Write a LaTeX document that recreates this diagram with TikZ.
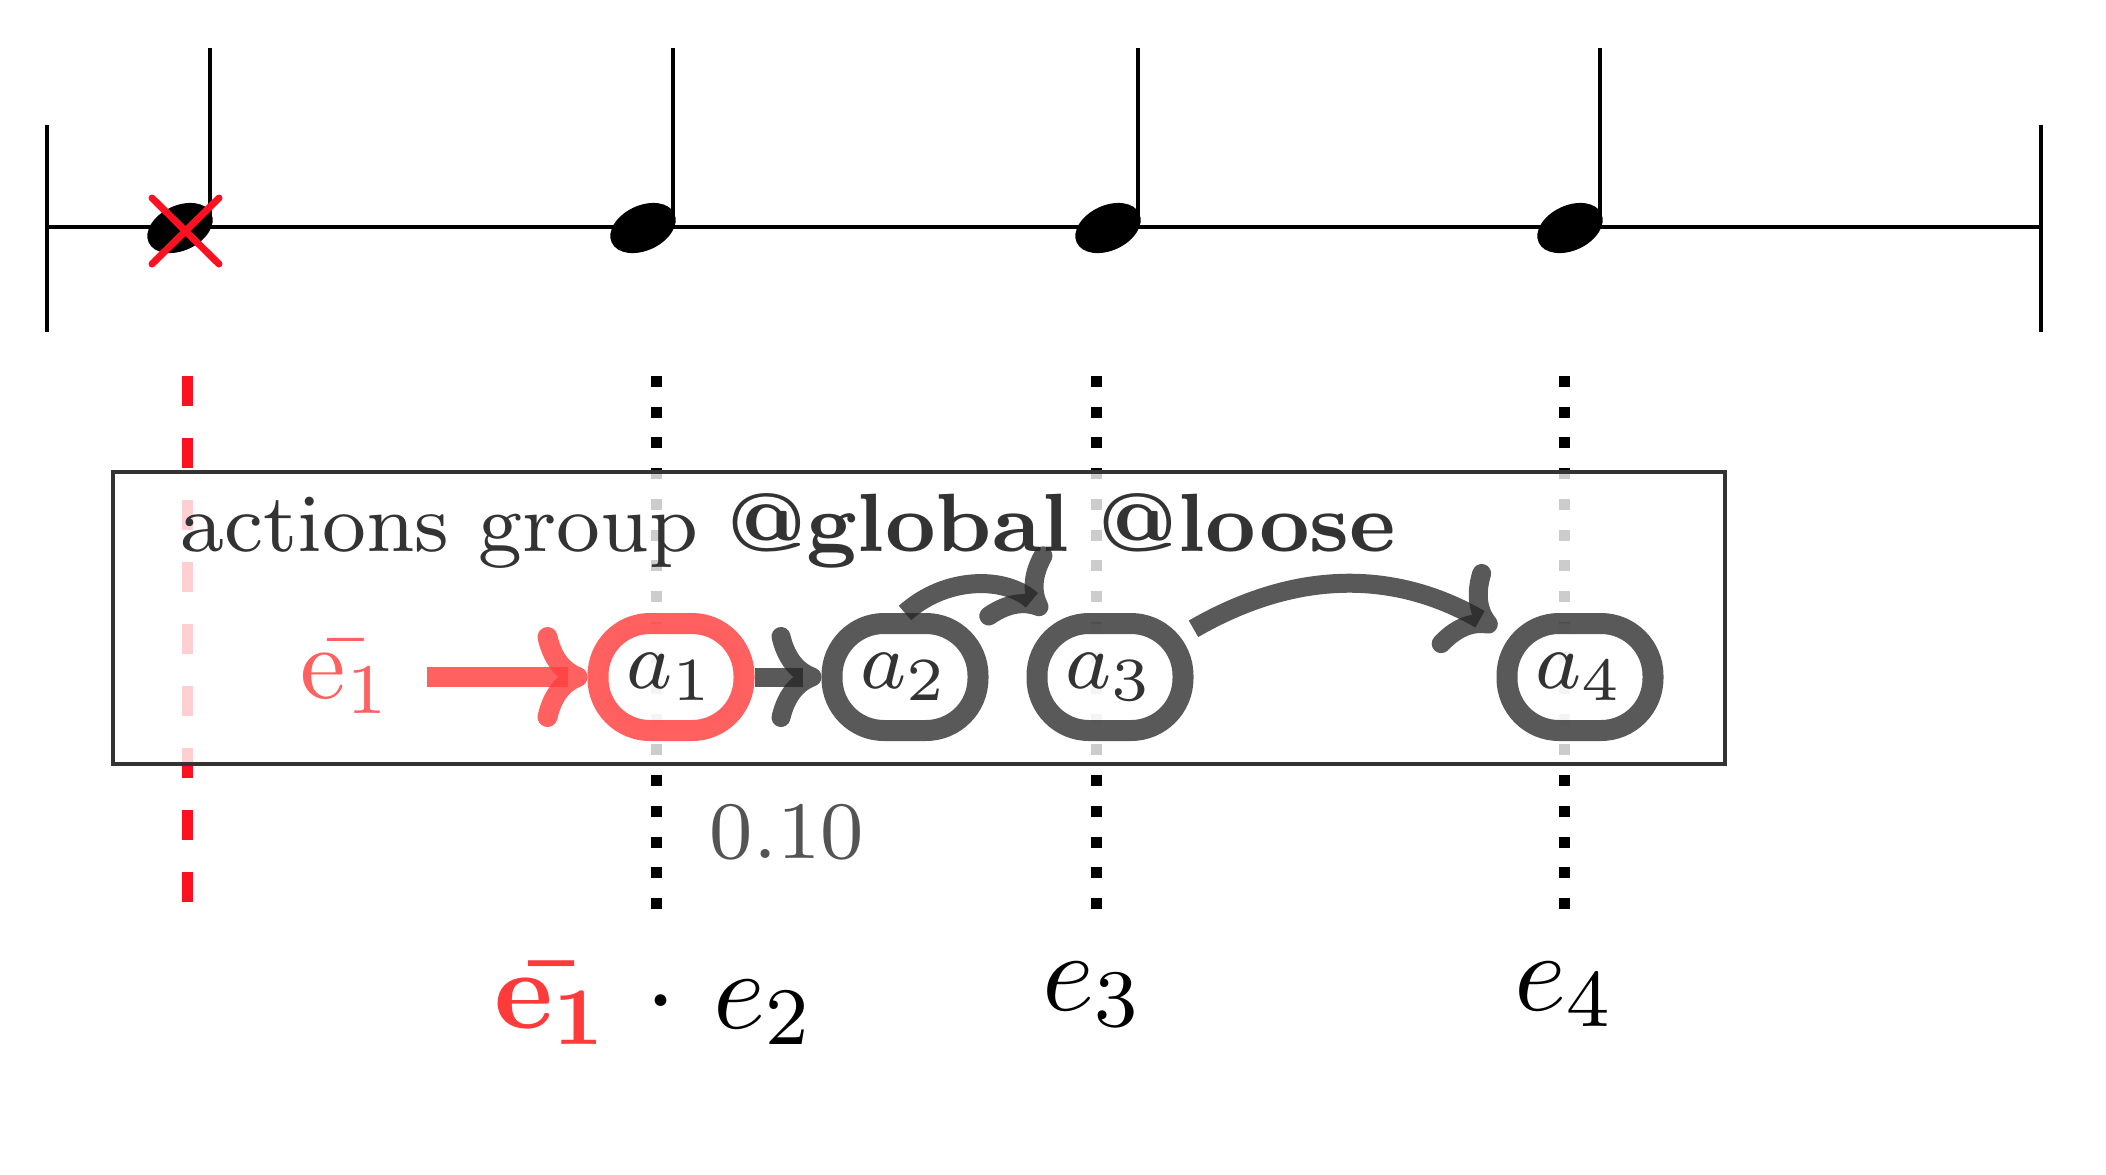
\documentclass[tikz,border=0pt]{standalone}
\usetikzlibrary{arrows.meta}
\definecolor{xred}{RGB}{255,16,32}
\definecolor{ared}{rgb}{1,0.25,0.25}
\definecolor{bred}{RGB}{255,58,58}
\definecolor{lred}{RGB}{255,96,96}
\newcommand\SCt[3]{\scalebox{#1}{\fontsize{#2}{#2}\selectfont #3}}
\begin{document}
\begin{tikzpicture}[x=1cm,y=1cm,
  staffln/.style={line width=0.035cm, black},
  vdot/.style={line width=0.11cm, black, dash pattern=on 0.11cm off 0.197cm},
  vdash/.style={line width=0.11cm, xred, dash pattern=on 0.30cm off 0.32cm},
  act/.style={rectangle, rounded corners=0.52cm, minimum width=1.46cm, minimum height=1.07cm, inner sep=0pt, line width=0.21cm, draw=black!85, draw opacity=0.76, fill=white, fill opacity=0.8, text opacity=1, text=black!80},
  actred/.style={act, draw=ared, draw opacity=0.83},
  tipped/.style={line width=0.19cm, -{Computer Modern Rightarrow[length=0.5cm,width=1.0cm,line cap=round]}},
  garr/.style={tipped, draw=black!85, draw opacity=0.76},
  rarr/.style={tipped, line width=0.2cm, draw=ared, draw opacity=0.83},
  lbl/.style={inner sep=0pt}
]
\useasboundingbox (0,0) rectangle (21.06,-11.74);
% staff
\draw[staffln] (0.47,-2.27) -- (20.41,-2.27);
\draw[staffln] (0.47,-1.25) -- (0.47,-3.32);
\draw[staffln] (20.41,-1.25) -- (20.41,-3.32);
\foreach \x in {1.80,6.43,11.08,15.70} {
  \fill[rotate around={25:(\x,-2.28)}] (\x,-2.28) ellipse [x radius=0.345, y radius=0.225];
  \draw[staffln] (\x+0.30,-0.48) -- (\x+0.30,-2.27);
}
\draw[xred, line width=0.07cm, line cap=round] (1.52,-1.98) -- (2.19,-2.64) (2.19,-1.98) -- (1.52,-2.64);
% time lines
\draw[vdash] (1.87,-3.76) -- (1.87,-9.02);
\foreach \x in {6.56,10.96,15.64} \draw[vdot] (\x,-3.76) -- (\x,-9.10);
% group box
\draw[line width=0.047cm, draw=black!80, fill=white, fill opacity=0.8] (1.13,-4.72) rectangle (17.25,-7.64);
\node[lbl, anchor=base west, text=black!80] (title) at (1.80,-5.51) {\SCt{2.94}{8}{actions group \textbf{@global} \textbf{@loose}}};
% actions
\node[actred] (a1) at (6.71,-6.77) {\SCt{2.9}{8}{$a_1$}};
\node[act] (a2) at (9.05,-6.77) {\SCt{2.9}{8}{$a_2$}};
\node[act] (a3) at (11.10,-6.77) {\SCt{2.9}{8}{$a_3$}};
\node[act] (a4) at (15.80,-6.77) {\SCt{2.9}{8}{$a_4$}};
\node[lbl, anchor=base west, text=lred] (e1) at (3.0,-6.98) {\SCt{2.9}{10}{$\bar{\mathrm{e}_1}$}};
\coordinate (rs) at (4.27,-6.77);
\draw[rarr] (rs) -- (a1.west);
\draw[garr] (a1.east) -- (a2.west);
\draw[garr] (a2.north) to[bend left=42] (a3.135);
\draw[garr] (a3.30) to[bend left=30] (a4.150);
% labels
\node[lbl, anchor=base west, text=black!67] (w) at (7.09,-8.58) {\SCt{2.9}{8}{0.10}};
\node[lbl, anchor=base] (b2) at (6.54,-10.28) {\SCt{2.9}{10.95}{{\color{bred}\boldmath$\bar{\mathbf{e}_1}$} $\cdot$ $e_2$}};
\node[lbl, anchor=base] (b3) at (10.93,-10.10) {\SCt{2.9}{10.95}{$e_3$}};
\node[lbl, anchor=base] (b4) at (15.65,-10.10) {\SCt{2.9}{10.95}{$e_4$}};
\end{tikzpicture}
\end{document}
